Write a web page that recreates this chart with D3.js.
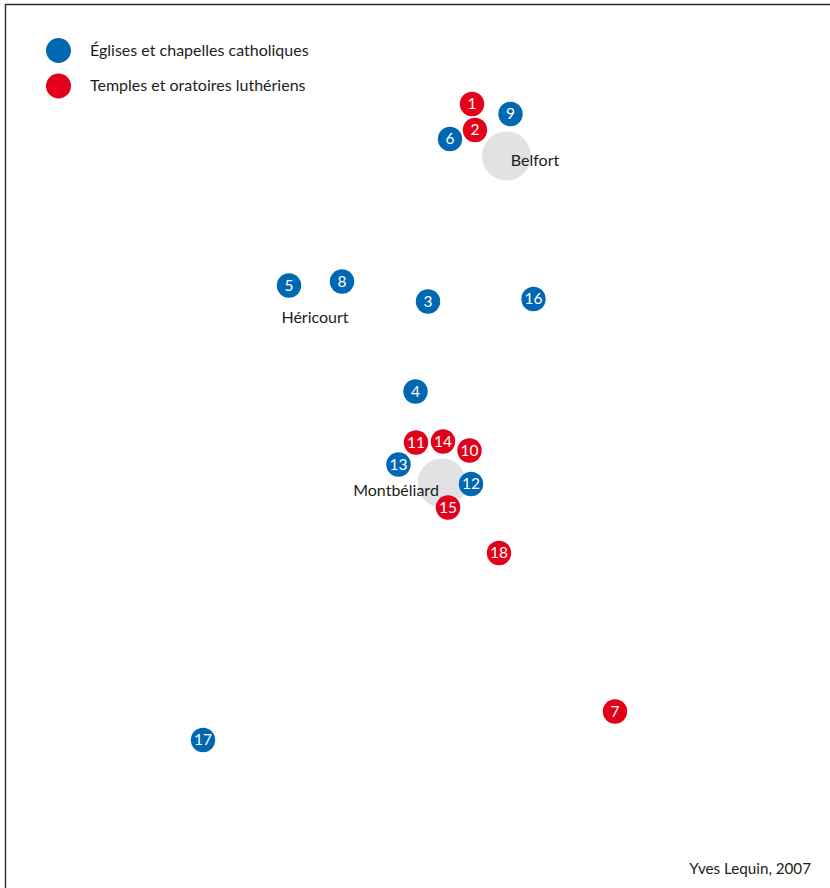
<!DOCTYPE html>
<html>

<head>
	<meta charset="utf-8">
	<title>Églises et temples</title>
	<script src="https://d3js.org/d3.v7.min.js"></script>
	<style>
		html, body { margin: 0; padding: 0; background: #fff; }
		svg { display: block; }
		text { font-family: Lato, "Open Sans", sans-serif; fill: #1d1d1b; }
	</style>
</head>

<body>
	<script>
		// Sites (map position on a 830 x 888 grid)
		const siteIds = [1, 2, 3, 4, 5, 6, 7, 8, 9, 10, 11, 12, 13, 14, 15, 16, 17, 18];
		const siteX = [472, 475, 428, 415.5, 289, 450, 615, 342, 510.5, 469.5, 416, 471, 398.5, 443, 448, 533.5, 203, 499];
		const siteY = [104, 130, 301.5, 391.5, 285.5, 139, 711.5, 281.5, 114, 450.5, 442.5, 484, 464.5, 441.5, 507.5, 299, 740, 553];
		const siteType = ['L', 'L', 'C', 'C', 'C', 'C', 'L', 'C', 'C', 'L', 'L', 'C', 'C', 'L', 'L', 'C', 'C', 'L'];

		// Towns
		const townNames = ['Belfort', 'Héricourt', 'Montbéliard'];
		const townLabelX = [535, 315, 396];
		const townLabelY = [160.5, 317.5, 490];
		const townDiscX = [506.5, null, 442];
		const townDiscY = [156, null, 483];

		// Legend
		const legendTypes = ['C', 'L'];
		const legendLabels = ['Églises et chapelles catholiques', 'Temples et oratoires luthériens'];
		const legendY = [50.5, 86];

		const width = 830;
		const height = 888;

		const x = d3.scaleLinear().domain([0, 830]).range([0, width]);
		const y = d3.scaleLinear().domain([0, 888]).range([0, height]);
		const color = d3.scaleOrdinal().domain(['C', 'L']).range(['#0067b3', '#e2001a']);

		const svg = d3.select('body')
			.append('svg')
			.attr('width', width)
			.attr('height', height);

		// Frame: open on the right and at the bottom
		svg.append('path')
			.attr('d', `M${width},4.5H5.5V${height}`)
			.attr('fill', 'none')
			.attr('stroke', '#2b2a29')
			.attr('stroke-width', 1.4);

		// Grey town discs
		const discs = townNames.map((n, i) => ({ x: townDiscX[i], y: townDiscY[i] })).filter(d => d.x !== null);
		svg.selectAll('circle.town')
			.data(discs)
			.enter()
			.append('circle')
			.attr('class', 'town')
			.attr('cx', d => x(d.x))
			.attr('cy', d => y(d.y))
			.attr('r', 24.5)
			.style('fill', '#e1e2e4');

		svg.selectAll('text.town')
			.data(townNames)
			.enter()
			.append('text')
			.attr('class', 'town')
			.attr('x', (d, i) => x(townLabelX[i]))
			.attr('y', (d, i) => y(townLabelY[i]))
			.attr('dy', '0.35em')
			.attr('text-anchor', 'middle')
			.style('font-size', '16px')
			.text(d => d);

		// Numbered sites
		const sites = svg.selectAll('g.site')
			.data(siteIds)
			.enter()
			.append('g')
			.attr('class', 'site')
			.attr('transform', (d, i) => `translate(${x(siteX[i])}, ${y(siteY[i])})`);

		sites.append('circle')
			.attr('r', 12.2)
			.style('fill', (d, i) => color(siteType[i]));

		sites.append('text')
			.attr('dy', '0.35em')
			.attr('text-anchor', 'middle')
			.style('font-size', '15.5px')
			.style('fill', '#fff')
			.text(d => d);

		// Legend
		svg.selectAll('circle.legend')
			.data(legendTypes)
			.enter()
			.append('circle')
			.attr('class', 'legend')
			.attr('cx', x(58.5))
			.attr('cy', (d, i) => y(legendY[i]))
			.attr('r', 12.5)
			.style('fill', d => color(d));

		svg.selectAll('text.legend')
			.data(legendLabels)
			.enter()
			.append('text')
			.attr('class', 'legend')
			.attr('x', x(90))
			.attr('y', (d, i) => y(legendY[i] - 0.5))
			.attr('dy', '0.35em')
			.style('font-size', '16px')
			.text(d => d);

		// Credit
		svg.append('text')
			.attr('x', x(811))
			.attr('y', y(868.5))
			.attr('dy', '0.35em')
			.attr('text-anchor', 'end')
			.style('font-size', '15.2px')
			.text('Yves Lequin, 2007');
	</script>
</body>

</html>
